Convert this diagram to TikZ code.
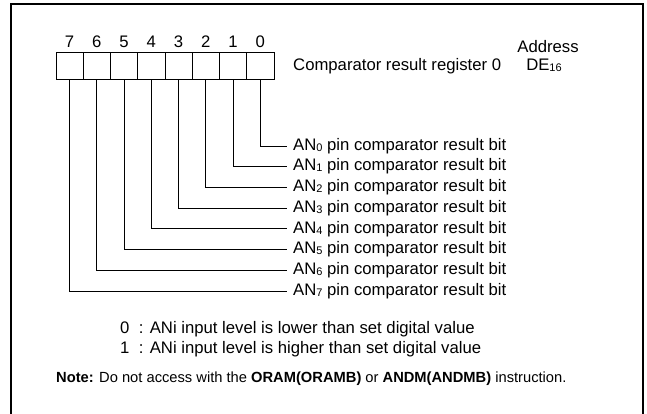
\documentclass[tikz,border=0pt]{standalone}
\usepackage{fontspec}
\setmainfont{Liberation Sans}
\usepackage{tikz}
\usetikzlibrary{positioning, calc}

\newcommand{\subnum}[1]{\raisebox{-1pt}{\fontsize{11}{11}\selectfont #1}}

\begin{document}
\begin{tikzpicture}[
        x=1pt, y=-1pt,
        bitcell/.style={rectangle, draw=black, line width=0.8pt, minimum width=27.25pt, minimum height=27pt, inner sep=0pt},
        plain/.style={inner sep=0pt, text height=12pt, text depth=3.5pt, font=\fontsize{16.7}{18}\selectfont},
        bitdesc/.style={plain, anchor=west, inner xsep=6pt},
        note/.style={anchor=west, inner sep=0pt, text height=11pt, text depth=3pt, font=\fontsize{14.7}{16}\selectfont}
    ]
        \useasboundingbox (0,0) rectangle (647,414);
        \clip (0,0) rectangle (647,414);
        % Frame
        \draw[line width=2pt] (11,430) -- (11,4) -- (643,4) -- (643,430);

        % Register cells
        \foreach \b [count=\i from 0] in {7,6,5,4,3,2,1,0} {
            \node[bitcell] (bit\b) at (69.6+27.25*\i, 65.5) {};
            \node[plain] (num\b) at (69.6+27.25*\i, 43) {\b};
        }
        \node[plain, anchor=west] (reg) at (293,66) {Comparator result register 0};
        \node[plain] (addr) at (548,48) {Address};
        \node[plain] (addrval) at (544,66) {DE\subnum{16}};

        % Bit descriptions
        \foreach \b in {0,...,7} {
            \node[bitdesc] (desc\b) at (287, 146+20.7*\b) {AN\subnum{\b} pin comparator result bit};
            \draw[line width=0.8pt] (bit\b.south) |- (desc\b.west);
        }

        % Legend
        \node[plain, anchor=west] (val0) at (120,329) {0\hspace{9.5pt}: ANi input level is lower than set digital value};
        \node[plain, anchor=west] (val1) at (120,349) {1\hspace{9.5pt}: ANi input level is higher than set digital value};
        \node[note] (note) at (56,378) {\textbf{Note:} Do not access with the \textbf{ORAM(ORAMB)} or \textbf{ANDM(ANDMB)} instruction.};
\end{tikzpicture}
\end{document}
